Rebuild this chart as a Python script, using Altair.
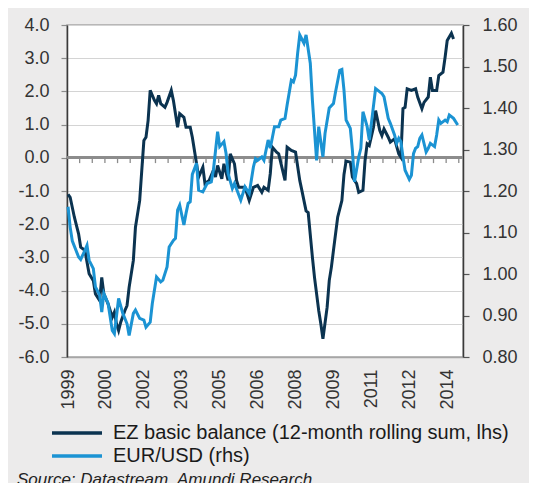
import altair as alt
import pandas as pd

# months since Jan 1999 (category index), EZ basic balance (lhs)
ez_month = [0, 1, 3, 5, 6, 8, 10, 12, 13, 15, 16, 17, 19, 21, 22, 23, 24, 25, 27, 28,
            29, 31, 32, 34, 35, 36, 37, 38, 39, 41, 42, 43, 44, 46, 47, 49, 50, 52, 53, 55,
            56, 58, 59, 61, 62, 64, 65, 67, 69, 70, 71, 73, 74, 76, 77, 79, 80, 81, 84, 86,
            88, 90, 92, 93, 95, 96, 97, 99, 100, 103, 104, 106, 108, 110, 111, 113, 114, 116, 117, 118,
            119, 120, 121, 123, 124, 125, 126, 128, 129, 130, 131, 132, 134, 135, 137, 138, 140, 141, 142, 143,
            145, 146, 148, 149, 150, 152, 153, 155, 157, 158, 159, 160, 161, 163, 165, 166, 168, 169, 171, 172,
            173, 175, 176, 178, 179, 180, 182, 183]
ez_value = [-1.10, -1.19, -1.79, -2.29, -2.69, -2.79, -3.49, -3.70, -4.10, -4.30, -3.60, -4.10, -4.40, -4.80, -4.65, -5.00, -5.20, -4.95, -4.60, -4.45,
            -3.90, -3.09, -2.09, -1.29, -0.38, 0.52, 0.62, 1.12, 2.03, 1.73, 1.63, 1.88, 1.63, 1.52, 1.67, 2.03, 1.73, 0.92, 1.33, 1.22,
            0.92, 0.92, 0.62, -0.18, -0.58, -0.28, -0.78, -0.68, -0.38, -0.58, -0.23, -0.63, -0.18, -0.68, 0.12, -0.18, -0.68, -0.89, -0.89, -1.29,
            -0.89, -0.83, -1.04, -0.89, -0.98, -0.48, 0.32, 0.17, 0.12, -0.68, 0.32, 0.22, 0.17, -0.68, -0.98, -1.60, -1.65, -2.99, -3.60, -4.10,
            -4.60, -5.00, -5.45, -4.50, -3.70, -3.30, -2.79, -1.79, -1.54, -1.29, -0.50, -0.10, -0.13, -0.58, -0.78, -1.04, -0.98, -0.08, 0.42, 0.37,
            0.92, 1.42, 0.82, 0.67, 0.87, 0.62, 0.47, 0.57, 0.12, 0.02, 1.48, 1.52, 2.08, 2.03, 2.08, 1.83, 1.48, 1.67, 1.83, 2.43,
            2.03, 2.03, 2.48, 2.58, 3.03, 3.53, 3.75, 3.58]

# EUR/USD (rhs)
fx_month = [0, 1, 2, 5, 6, 8, 9, 10, 12, 13, 15, 16, 17, 19, 21, 22, 24, 26, 28, 29,
            31, 32, 34, 36, 37, 39, 40, 42, 44, 45, 47, 48, 50, 51, 52, 53, 55, 56, 57, 58,
            59, 61, 62, 64, 66, 68, 69, 71, 72, 74, 75, 76, 78, 79, 82, 84, 86, 88, 89, 90,
            92, 93, 95, 96, 98, 100, 101, 103, 104, 106, 107, 108, 109, 110, 112, 113, 115, 116, 118, 119,
            121, 122, 124, 126, 127, 129, 130, 131, 132, 134, 135, 136, 138, 139, 140, 142, 143, 144, 146, 148,
            149, 150, 152, 153, 155, 156, 157, 158, 159, 160, 162, 163, 164, 165, 166, 167, 168, 170, 171, 172,
            174, 175, 176, 177, 179, 180, 181, 183, 185]
fx_value = [1.162, 1.113, 1.080, 1.041, 1.035, 1.057, 1.069, 1.033, 1.013, 0.969, 0.949, 0.908, 0.953, 0.929, 0.864, 0.856, 0.941, 0.905, 0.880, 0.852,
            0.905, 0.913, 0.893, 0.889, 0.872, 0.884, 0.929, 0.993, 0.981, 0.985, 1.017, 1.065, 1.081, 1.086, 1.154, 1.166, 1.118, 1.146, 1.170, 1.174,
            1.240, 1.267, 1.202, 1.198, 1.218, 1.222, 1.250, 1.343, 1.307, 1.319, 1.291, 1.242, 1.206, 1.218, 1.178, 1.210, 1.194, 1.258, 1.278, 1.274,
            1.282, 1.274, 1.323, 1.303, 1.355, 1.355, 1.371, 1.375, 1.407, 1.467, 1.463, 1.479, 1.532, 1.576, 1.556, 1.576, 1.508, 1.419, 1.274, 1.355,
            1.282, 1.339, 1.400, 1.411, 1.439, 1.491, 1.493, 1.443, 1.371, 1.351, 1.298, 1.222, 1.282, 1.303, 1.391, 1.355, 1.323, 1.363, 1.447, 1.439,
            1.435, 1.427, 1.375, 1.363, 1.335, 1.315, 1.327, 1.319, 1.282, 1.250, 1.228, 1.238, 1.290, 1.303, 1.307, 1.327, 1.335, 1.294, 1.303, 1.315,
            1.307, 1.335, 1.371, 1.363, 1.371, 1.367, 1.383, 1.375, 1.359]

series_names = ["EZ basic balance (12-month rolling sum, lhs)", "EUR/USD (rhs)"]
series_colors = ["#0B3350", "#1B93D3"]
year_label_months = [0, 18, 36, 54, 72, 90, 108, 126, 144, 162, 180]
n_months = 188
left_ticks = [-6, -5, -4, -3, -2, -1, 0, 1, 2, 3, 4]
right_ticks = [0.8, 0.9, 1.0, 1.1, 1.2, 1.3, 1.4, 1.5, 1.6]

FONT = "Liberation Sans"
ez = pd.DataFrame({"m": ez_month, "v": ez_value, "s": series_names[0]})
fx = pd.DataFrame({"m": fx_month, "v": fx_value, "s": series_names[1]})
ticks_df = pd.DataFrame({"m": [-0.5 + 6 * k for k in range(1, n_months // 6 + 1)]})

xscale = alt.Scale(domain=[-0.5, n_months - 0.5], nice=False, zero=False)
xaxis = alt.Axis(values=year_label_months, labelExpr="toString(1999 + floor(datum.value / 12))",
                 labelAngle=270, labelFontSize=18, labelFont=FONT, labelColor="#333333",
                 ticks=False, labelPadding=12, domain=True, domainColor="#A6A6A6", domainWidth=1.5,
                 grid=False, title=None)
X = alt.X("m:Q", scale=xscale, axis=xaxis)

yl_scale = alt.Scale(domain=[-6, 4], nice=False, zero=False)
yl_axis = alt.Axis(values=left_ticks, labelExpr="replace(format(datum.value, '.1f'), '−', '-')",
                   labelFontSize=18, labelFont=FONT, labelColor="#333333", labelPadding=12,
                   tickSize=6, tickColor="#8C8C8C", tickWidth=1.2,
                   domainColor="#3A3A3A", domainWidth=1.5,
                   grid=True, gridColor="#D4D4D4", gridWidth=1, title=None)
yr_scale = alt.Scale(domain=[0.8, 1.6], nice=False, zero=False)
yr_axis = alt.Axis(values=right_ticks, format=".2f", orient="right",
                   labelFontSize=18, labelFont=FONT, labelColor="#333333", labelPadding=13,
                   tickSize=6, tickColor="#555555", tickWidth=1.2,
                   domainColor="#3A3A3A", domainWidth=1.5, grid=False, title=None)

color_scale = alt.Scale(domain=series_names, range=series_colors)
legend = alt.Legend(orient="none", legendX=0, legendY=398, direction="vertical", title=None,
                    symbolType="M-5,0H5", symbolStrokeWidth=3.5, symbolSize=100,
                    symbolFillColor="transparent",
                    labelFont=FONT, labelFontSize=20, labelColor="#1A1A1A", labelOffset=26,
                    rowPadding=3, labelLimit=0, padding=0)

zero_rule = alt.Chart(ez).mark_rule(color="#8C8C8C", strokeWidth=2).encode(
    y=alt.datum(0, scale=yl_scale, axis=yl_axis))
zero_ticks = alt.Chart(ticks_df).mark_rule(color="#8C8C8C", strokeWidth=1.3).encode(
    x=X, y=alt.datum(0, scale=yl_scale, axis=yl_axis), y2=alt.datum(-0.16))
ez_line = alt.Chart(ez).mark_line(strokeWidth=3).encode(
    x=X, y=alt.Y("v:Q", scale=yl_scale, axis=yl_axis),
    color=alt.Color("s:N", scale=color_scale, legend=legend))
fx_line = alt.Chart(fx).mark_line(strokeWidth=3).encode(
    x=X, y=alt.Y("v:Q", scale=yr_scale, axis=yr_axis),
    color=alt.Color("s:N", scale=color_scale, legend=legend))

left = alt.layer(zero_rule, zero_ticks, ez_line)
chart = alt.layer(left, fx_line).resolve_scale(y="independent").properties(
    width=396, height=332,
    autosize=alt.AutoSizeParams(type="none"),
    padding={"left": 59, "top": 17, "right": 66, "bottom": 134},
    background="#ECEBEB",
    title=alt.TitleParams("Source: Datastream, Amundi Research", orient="bottom", anchor="start",
                          frame="group", font=FONT, fontSize=17, fontStyle="italic",
                          fontWeight="normal", color="#222222", dx=-50, offset=6, baseline="top"),
).configure_view(stroke="#A6A6A6", strokeWidth=1.5, fill="white")

chart.save("out.html", embed_options={"renderer": "svg", "actions": False})
